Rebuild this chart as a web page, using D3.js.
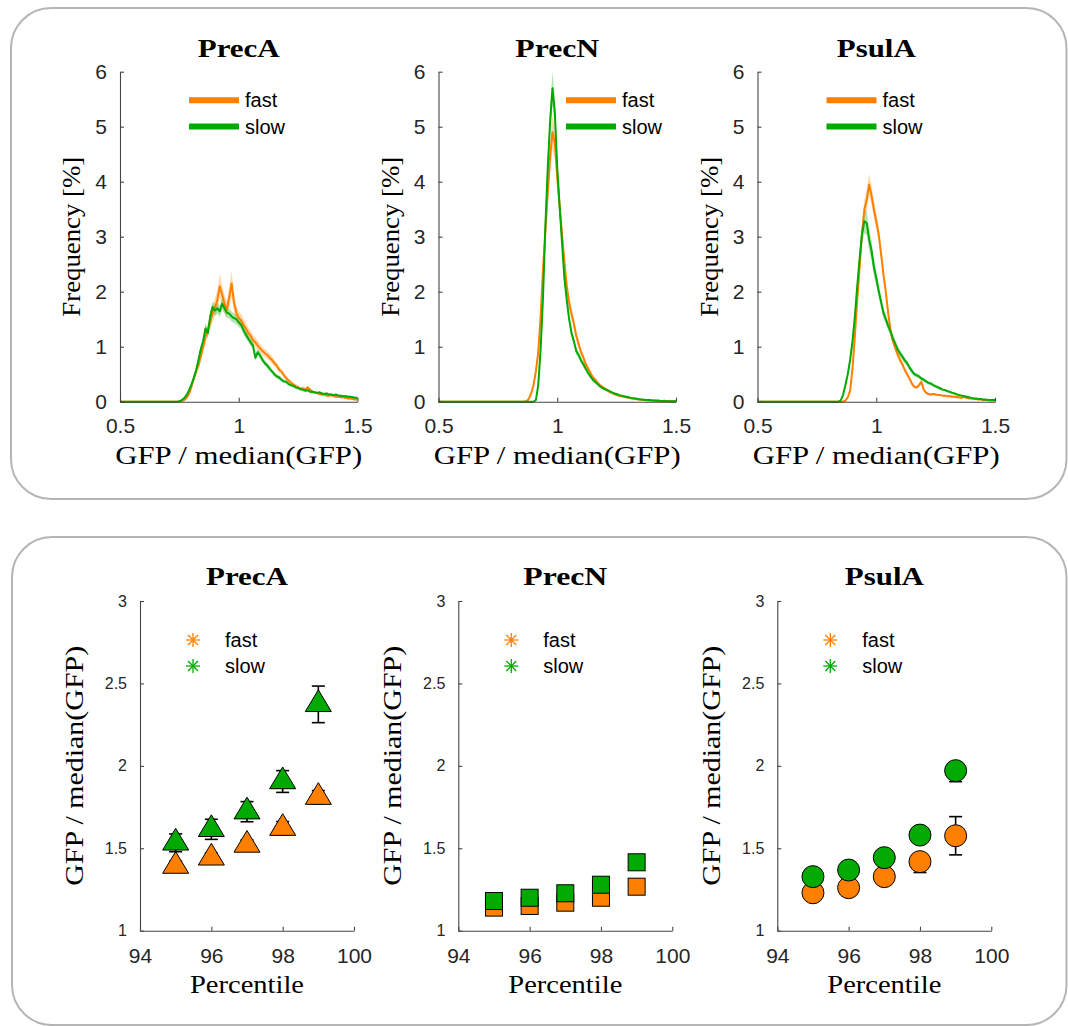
<!DOCTYPE html>
<html>
<head>
<meta charset="utf-8">
<script src="https://cdn.jsdelivr.net/npm/d3@7"></script>
<style>
  html, body { margin: 0; padding: 0; background: #ffffff; }
  svg { display: block; }
</style>
</head>
<body>
<svg id="fig" width="1068" height="1026"></svg>
<script>
// ---------------------------------------------------------------
// Data
// ---------------------------------------------------------------
const promoters = ["PrecA", "PrecN", "PsulA"];
const groups = ["fast", "slow"];

// histogram bins: GFP / median(GFP) from 0.50 to 1.50, step 0.01
const bins = d3.range(101).map(i => +(0.5 + i * 0.01).toFixed(2));

// frequency [%] per bin
const precA_fast = [
  0,0,0,0,0,0,0,0,0,0,
  0,0,0,0,0,0,0,0,0,0,
  0,0,0,0,0,0,0.01,0.03,0.07,0.14,
  0.26,0.42,0.55,0.66,0.82,1.00,1.18,1.30,1.45,1.60,
  1.72,1.85,2.10,1.95,1.78,1.68,1.90,2.15,1.80,1.62,
  1.52,1.48,1.40,1.33,1.25,1.20,1.12,1.08,1.02,0.97,
  0.92,0.88,0.85,0.80,0.76,0.70,0.66,0.58,0.55,0.48,
  0.43,0.38,0.35,0.31,0.28,0.26,0.23,0.24,0.22,0.26,
  0.22,0.18,0.17,0.16,0.14,0.13,0.13,0.11,0.11,0.12,
  0.10,0.09,0.09,0.08,0.08,0.07,0.06,0.06,0.05,0.04,
  0.04];
const precA_slow = [
  0,0,0,0,0,0,0,0,0,0,
  0,0,0,0,0,0,0,0,0,0,
  0,0,0,0,0,0.01,0.03,0.06,0.12,0.20,
  0.30,0.42,0.56,0.75,0.95,1.10,1.33,1.25,1.55,1.72,
  1.66,1.70,1.64,1.78,1.70,1.62,1.60,1.55,1.52,1.50,
  1.44,1.40,1.30,1.22,1.15,1.08,1.02,0.80,0.90,0.84,
  0.76,0.70,0.66,0.60,0.55,0.50,0.46,0.44,0.40,0.37,
  0.36,0.32,0.30,0.29,0.26,0.25,0.23,0.22,0.20,0.21,
  0.18,0.18,0.17,0.16,0.17,0.15,0.14,0.15,0.13,0.13,
  0.12,0.13,0.11,0.11,0.10,0.10,0.09,0.09,0.08,0.07,
  0.07];
const precN_fast = [
  0,0,0,0,0,0,0,0,0,0,
  0,0,0,0,0,0,0,0,0,0,
  0,0,0,0,0,0,0,0,0,0,
  0,0,0,0,0,0,0,0.01,0.05,0.15,
  0.30,0.55,0.90,1.55,2.40,3.10,3.80,4.45,4.90,4.70,
  4.10,3.55,3.05,2.55,2.10,1.80,1.60,1.42,1.20,1.05,
  0.90,0.80,0.68,0.60,0.52,0.44,0.40,0.34,0.30,0.27,
  0.24,0.21,0.18,0.16,0.14,0.12,0.11,0.10,0.09,0.08,
  0.07,0.06,0.06,0.05,0.04,0.04,0.03,0.03,0.02,0.02,
  0.02,0.02,0.01,0.01,0.01,0.01,0.01,0.01,0.01,0.01,
  0.01];
const precN_slow = [
  0,0,0,0,0,0,0,0,0,0,
  0,0,0,0,0,0,0,0,0,0,
  0,0,0,0,0,0,0,0,0,0,
  0,0,0,0,0,0,0,0,0,0,
  0,0.03,0.30,0.95,1.90,3.20,4.25,5.10,5.70,5.25,
  4.25,3.55,2.90,2.25,1.85,1.50,1.25,1.10,0.92,0.85,
  0.75,0.68,0.60,0.52,0.46,0.40,0.36,0.32,0.28,0.25,
  0.23,0.21,0.19,0.17,0.15,0.14,0.12,0.11,0.10,0.09,
  0.08,0.07,0.06,0.06,0.05,0.04,0.04,0.03,0.03,0.03,
  0.02,0.02,0.02,0.02,0.01,0.02,0.01,0.01,0.01,0.01,
  0.01];
const psulA_fast = [
  0,0,0,0,0,0,0,0,0,0,
  0,0,0,0,0,0,0,0,0,0,
  0,0,0,0,0,0,0,0,0,0,
  0,0,0,0,0,0,0,0.02,0.08,0.20,
  0.60,1.20,1.85,2.45,3.05,3.50,3.67,3.95,3.75,3.50,
  3.28,3.05,2.70,2.33,2.00,1.62,1.30,1.10,0.98,0.86,
  0.76,0.68,0.58,0.50,0.42,0.33,0.27,0.26,0.30,0.36,
  0.22,0.16,0.14,0.13,0.14,0.13,0.12,0.12,0.11,0.11,
  0.10,0.10,0.09,0.09,0.08,0.08,0.07,0.09,0.07,0.06,
  0.06,0.05,0.05,0.04,0.04,0.03,0.03,0.03,0.02,0.02,
  0.02];
const psulA_slow = [
  0,0,0,0,0,0,0,0,0,0,
  0,0,0,0,0,0,0,0,0,0,
  0,0,0,0,0,0,0,0,0,0,
  0,0,0,0,0,0.02,0.12,0.30,0.50,0.76,
  1.10,1.55,2.10,2.60,3.05,3.28,3.25,2.95,2.75,2.45,
  2.25,2.02,1.82,1.62,1.50,1.38,1.28,1.15,1.05,0.95,
  0.88,0.82,0.75,0.70,0.62,0.56,0.50,0.48,0.46,0.42,
  0.40,0.37,0.34,0.33,0.30,0.28,0.26,0.24,0.22,0.21,
  0.19,0.18,0.16,0.15,0.13,0.12,0.11,0.10,0.09,0.08,
  0.07,0.06,0.06,0.05,0.05,0.04,0.04,0.03,0.03,0.03,
  0.03];

// spread (shaded band half-width) per bin
const precA_fast_sd = [
  0,0,0,0,0,0,0,0,0,0,
  0,0,0,0,0,0,0,0,0,0,
  0,0,0,0,0,0,0.01,0.02,0.03,0.04,
  0.06,0.07,0.08,0.09,0.10,0.11,0.12,0.13,0.14,0.15,
  0.16,0.18,0.22,0.18,0.16,0.15,0.20,0.24,0.17,0.14,
  0.12,0.12,0.11,0.11,0.10,0.10,0.09,0.09,0.09,0.08,
  0.08,0.08,0.07,0.07,0.07,0.06,0.06,0.06,0.05,0.05,
  0.05,0.05,0.04,0.04,0.04,0.04,0.03,0.04,0.03,0.04,
  0.03,0.03,0.03,0.03,0.03,0.02,0.02,0.02,0.02,0.03,
  0.02,0.02,0.02,0.02,0.02,0.02,0.02,0.02,0.02,0.02,
  0.02];
const precA_slow_sd = [
  0,0,0,0,0,0,0,0,0,0,
  0,0,0,0,0,0,0,0,0,0,
  0,0,0,0,0,0.01,0.01,0.02,0.02,0.03,
  0.04,0.05,0.06,0.07,0.08,0.08,0.09,0.09,0.10,0.10,
  0.10,0.10,0.10,0.11,0.10,0.10,0.09,0.09,0.09,0.09,
  0.08,0.08,0.08,0.07,0.07,0.07,0.07,0.06,0.06,0.06,
  0.05,0.05,0.05,0.05,0.04,0.04,0.04,0.04,0.04,0.03,
  0.03,0.03,0.03,0.03,0.03,0.03,0.03,0.03,0.03,0.03,
  0.03,0.03,0.02,0.02,0.02,0.02,0.02,0.02,0.02,0.02,
  0.02,0.02,0.02,0.02,0.02,0.02,0.02,0.02,0.02,0.02,
  0.02];
const precN_fast_sd = [
  0,0,0,0,0,0,0,0,0,0,
  0,0,0,0,0,0,0,0,0,0,
  0,0,0,0,0,0,0,0,0,0,
  0,0,0,0,0,0,0,0.01,0.02,0.04,
  0.06,0.10,0.12,0.15,0.18,0.20,0.24,0.28,0.32,0.30,
  0.25,0.20,0.17,0.15,0.13,0.12,0.11,0.10,0.09,0.08,
  0.07,0.07,0.06,0.06,0.05,0.05,0.04,0.04,0.04,0.03,
  0.03,0.03,0.03,0.02,0.02,0.02,0.02,0.02,0.02,0.01,
  0.01,0.01,0.01,0.01,0.01,0.01,0.01,0.01,0.01,0.01,
  0.01,0.01,0.01,0.01,0.01,0.01,0.01,0.01,0.01,0.01,
  0.01];
const precN_slow_sd = [
  0,0,0,0,0,0,0,0,0,0,
  0,0,0,0,0,0,0,0,0,0,
  0,0,0,0,0,0,0,0,0,0,
  0,0,0,0,0,0,0,0,0,0,
  0,0.01,0.04,0.08,0.12,0.16,0.20,0.25,0.30,0.25,
  0.18,0.15,0.12,0.10,0.09,0.08,0.07,0.07,0.06,0.06,
  0.05,0.05,0.05,0.04,0.04,0.04,0.03,0.03,0.03,0.03,
  0.03,0.02,0.02,0.02,0.02,0.02,0.02,0.02,0.01,0.01,
  0.01,0.01,0.01,0.01,0.01,0.01,0.01,0.01,0.01,0.01,
  0.01,0.01,0.01,0.01,0.01,0.01,0.01,0.01,0.01,0.01,
  0.01];
const psulA_fast_sd = [
  0,0,0,0,0,0,0,0,0,0,
  0,0,0,0,0,0,0,0,0,0,
  0,0,0,0,0,0,0,0,0,0,
  0,0,0,0,0,0,0,0.01,0.02,0.03,
  0.06,0.09,0.11,0.13,0.15,0.17,0.18,0.20,0.18,0.16,
  0.15,0.13,0.12,0.11,0.10,0.09,0.08,0.07,0.07,0.06,
  0.06,0.05,0.05,0.05,0.04,0.04,0.03,0.03,0.04,0.04,
  0.03,0.02,0.02,0.02,0.02,0.02,0.02,0.02,0.02,0.02,
  0.02,0.02,0.02,0.02,0.02,0.02,0.02,0.02,0.02,0.02,
  0.01,0.01,0.01,0.01,0.01,0.01,0.01,0.01,0.01,0.01,
  0.01];
const psulA_slow_sd = [
  0,0,0,0,0,0,0,0,0,0,
  0,0,0,0,0,0,0,0,0,0,
  0,0,0,0,0,0,0,0,0,0,
  0,0,0,0,0,0.01,0.02,0.04,0.05,0.07,
  0.09,0.11,0.13,0.15,0.18,0.22,0.22,0.20,0.18,0.16,
  0.14,0.12,0.11,0.10,0.09,0.09,0.08,0.08,0.07,0.07,
  0.06,0.06,0.06,0.05,0.05,0.05,0.04,0.04,0.04,0.04,
  0.04,0.03,0.03,0.03,0.03,0.03,0.03,0.03,0.02,0.02,
  0.02,0.02,0.02,0.02,0.02,0.02,0.02,0.02,0.02,0.02,
  0.01,0.01,0.01,0.01,0.01,0.01,0.01,0.01,0.01,0.01,
  0.01];

// high-percentile GFP / median(GFP): value, lower and upper error per percentile
const percentiles = [95, 96, 97, 98, 99];
const precA_fast_pct = [1.392, 1.442, 1.520, 1.622, 1.810];
const precA_fast_lo  = [0.03, 0.03, 0.03, 0.04, 0.04];
const precA_fast_hi  = [0.03, 0.03, 0.03, 0.04, 0.04];
const precA_slow_pct = [1.533, 1.615, 1.722, 1.905, 2.373];
const precA_slow_lo  = [0.054, 0.061, 0.061, 0.066, 0.111];
const precA_slow_hi  = [0.054, 0.061, 0.061, 0.066, 0.111];
const precN_fast_pct = [1.140, 1.150, 1.170, 1.200, 1.267];
const precN_fast_lo  = [0.01, 0.01, 0.01, 0.02, 0.02];
const precN_fast_hi  = [0.01, 0.01, 0.01, 0.02, 0.02];
const precN_slow_pct = [1.180, 1.200, 1.227, 1.279, 1.415];
const precN_slow_lo  = [0.02, 0.02, 0.02, 0.03, 0.03];
const precN_slow_hi  = [0.02, 0.02, 0.02, 0.03, 0.03];
const psulA_fast_pct = [1.230, 1.261, 1.328, 1.419, 1.576];
const psulA_fast_lo  = [0.03, 0.03, 0.04, 0.066, 0.116];
const psulA_fast_hi  = [0.03, 0.03, 0.04, 0.040, 0.116];
const psulA_slow_pct = [1.328, 1.368, 1.443, 1.580, 1.971];
const psulA_slow_lo  = [0.03, 0.03, 0.04, 0.04, 0.067];
const psulA_slow_hi  = [0.03, 0.03, 0.04, 0.04, 0.040];

// tick values
const histTicksX = [0.5, 1, 1.5];
const histTicksY = [0, 1, 2, 3, 4, 5, 6];
const pctTicksX = [94, 96, 98, 100];
const pctTicksY = [1, 1.5, 2, 2.5, 3];

// lookup tables built from the arrays above
const hist = {
  PrecA: { fast: precA_fast, slow: precA_slow },
  PrecN: { fast: precN_fast, slow: precN_slow },
  PsulA: { fast: psulA_fast, slow: psulA_slow }
};
const histSd = {
  PrecA: { fast: precA_fast_sd, slow: precA_slow_sd },
  PrecN: { fast: precN_fast_sd, slow: precN_slow_sd },
  PsulA: { fast: psulA_fast_sd, slow: psulA_slow_sd }
};
const pct = {
  PrecA: { fast: [precA_fast_pct, precA_fast_lo, precA_fast_hi],
           slow: [precA_slow_pct, precA_slow_lo, precA_slow_hi] },
  PrecN: { fast: [precN_fast_pct, precN_fast_lo, precN_fast_hi],
           slow: [precN_slow_pct, precN_slow_lo, precN_slow_hi] },
  PsulA: { fast: [psulA_fast_pct, psulA_fast_lo, psulA_fast_hi],
           slow: [psulA_slow_pct, psulA_slow_lo, psulA_slow_hi] }
};

// ---------------------------------------------------------------
// Styling / layout
// ---------------------------------------------------------------
const SANS = "'Liberation Sans', Arial, Helvetica, sans-serif";
const SERIF = "'Liberation Serif', 'Times New Roman', serif";
const color = { fast: "#ff8000", slow: "#00aa00" };
const axisColor = "#454545";
const tickTextColor = "#262626";
const markerShape = { PrecA: "triangle", PrecN: "square", PsulA: "circle" };
const titleWidth = { PrecA: 82, PrecN: 84, PsulA: 79 };

const svg = d3.select("#fig");

// rounded panel frames
function frame(x, y, w, h) {
  svg.append("rect")
    .attr("x", x).attr("y", y).attr("width", w).attr("height", h)
    .attr("rx", 40).attr("ry", 40)
    .attr("fill", "none").attr("stroke", "#b5b5b5").attr("stroke-width", 2);
}
frame(11, 8, 1055.5, 491);
frame(12, 537, 1054.5, 488);

function serifText(g, txt, x, y, size, len, bold, rotate) {
  const t = g.append("text")
    .attr("text-anchor", "middle")
    .attr("font-family", SERIF)
    .attr("font-size", size)
    .attr("font-weight", bold ? "bold" : "normal")
    .attr("fill", "#000")
    .attr("textLength", len)
    .attr("lengthAdjust", "spacingAndGlyphs")
    .text(txt);
  if (rotate) t.attr("transform", `translate(${x},${y}) rotate(-90)`);
  else t.attr("x", x).attr("y", y);
  return t;
}

function styleAxis(g, fontSize) {
  g.attr("font-family", null).attr("font-size", null);
  g.select(".domain").attr("stroke", axisColor).attr("stroke-width", 1.1);
  g.selectAll(".tick line").attr("stroke", axisColor).attr("stroke-width", 1.1);
  g.selectAll(".tick text")
    .attr("fill", tickTextColor)
    .style("font-family", SANS)
    .style("font-size", fontSize + "px");
}

// ---------------------------------------------------------------
// Top row: frequency histograms
// ---------------------------------------------------------------
const histLeft = [120, 438.5, 757.5];
const histW = 237.5, histTop = 71.7, histBottom = 401.7;
const legendDx = [69, 127.5, 69];

promoters.forEach((p, k) => {
  const x0 = histLeft[k];
  const x = d3.scaleLinear().domain([0.5, 1.5]).range([x0, x0 + histW]);
  const y = d3.scaleLinear().domain([0, 6]).range([histBottom, histTop]);
  const g = svg.append("g");

  groups.forEach(s => {
    const v = hist[p][s], sd = histSd[p][s];
    const band = d3.area()
      .x((d, i) => x(bins[i]))
      .y0((d, i) => y(Math.max(0, v[i] - sd[i])))
      .y1((d, i) => y(v[i] + sd[i]));
    g.append("path").datum(v).attr("d", band)
      .attr("fill", color[s]).attr("fill-opacity", 0.3).attr("stroke", "none");
  });
  groups.forEach(s => {
    const v = hist[p][s];
    const line = d3.line().x((d, i) => x(bins[i])).y(d => y(d));
    g.append("path").datum(v).attr("d", line)
      .attr("fill", "none").attr("stroke", color[s])
      .attr("stroke-width", 2).attr("stroke-linejoin", "round");
  });

  const gx = g.append("g").attr("transform", `translate(0,${histBottom})`)
    .call(d3.axisBottom(x).tickValues(histTicksX).tickFormat(d => String(d))
      .tickSizeInner(-4).tickSizeOuter(0).tickPadding(16));
  styleAxis(gx, 21);
  const gy = g.append("g").attr("transform", `translate(${x0},0)`)
    .call(d3.axisLeft(y).tickValues(histTicksY).tickFormat(d => String(d))
      .tickSizeInner(-4).tickSizeOuter(0).tickPadding(13));
  styleAxis(gy, 21);

  // title and axis labels
  serifText(g, p, x0 + histW / 2, histTop - 15, 26, titleWidth[p], true, false);
  serifText(g, "GFP / median(GFP)", x0 + histW / 2, histBottom + 62, 26, 247, false, false);
  serifText(g, "Frequency [%]", x0 - 40, (histTop + histBottom) / 2, 26, 160, false, true);

  // legend
  groups.forEach((s, j) => {
    const ly = histTop + 28.5 + j * 26.3;
    const lx = x0 + legendDx[k];
    g.append("line").attr("x1", lx).attr("x2", lx + 50).attr("y1", ly).attr("y2", ly)
      .attr("stroke", color[s]).attr("stroke-width", 6);
    g.append("text").attr("x", lx + 56).attr("y", ly).attr("dy", "0.35em")
      .attr("font-family", SANS).attr("font-size", 20).attr("fill", "#000")
      .text(s);
  });
});

// ---------------------------------------------------------------
// Bottom row: high percentiles
// ---------------------------------------------------------------
const pctLeft = [140, 458.3, 777.3];
const pctW = 214, pctTop = 601, pctBottom = 930.7;

function drawMarker(g, shape, cx, cy, fill) {
  if (shape === "triangle") {
    g.append("path")
      .attr("d", `M${cx},${cy - 14.5}L${cx + 13},${cy + 7.2}L${cx - 13},${cy + 7.2}Z`)
      .attr("fill", fill).attr("stroke", "#000").attr("stroke-width", 1);
  } else if (shape === "square") {
    g.append("rect").attr("x", cx - 8.5).attr("y", cy - 8.5)
      .attr("width", 17).attr("height", 17)
      .attr("fill", fill).attr("stroke", "#000").attr("stroke-width", 1);
  } else {
    g.append("circle").attr("cx", cx).attr("cy", cy).attr("r", 11)
      .attr("fill", fill).attr("stroke", "#000").attr("stroke-width", 1);
  }
}

function asterisk(g, cx, cy, c) {
  [0, 45, 90, 135].forEach(a => {
    const r = a * Math.PI / 180, L = 7;
    g.append("line")
      .attr("x1", cx - L * Math.cos(r)).attr("y1", cy - L * Math.sin(r))
      .attr("x2", cx + L * Math.cos(r)).attr("y2", cy + L * Math.sin(r))
      .attr("stroke", c).attr("stroke-width", 1.3);
  });
}

promoters.forEach((p, k) => {
  const x0 = pctLeft[k];
  const x = d3.scaleLinear().domain([94, 100]).range([x0, x0 + pctW]);
  const y = d3.scaleLinear().domain([1, 3]).range([pctBottom, pctTop]);
  const g = svg.append("g");

  const gx = g.append("g").attr("transform", `translate(0,${pctBottom})`)
    .call(d3.axisBottom(x).tickValues(pctTicksX).tickFormat(d => String(d))
      .tickSizeInner(-4).tickSizeOuter(0).tickPadding(17));
  styleAxis(gx, 21);
  const gy = g.append("g").attr("transform", `translate(${x0},0)`)
    .call(d3.axisLeft(y).tickValues(pctTicksY).tickFormat(d => String(d))
      .tickSizeInner(-4).tickSizeOuter(0).tickPadding(13));
  styleAxis(gy, 16);

  groups.forEach(s => {
    const [m, lo, hi] = pct[p][s];
    percentiles.forEach((q, i) => {
      const cx = x(q);
      const yHi = y(m[i] + hi[i]), yLo = y(m[i] - lo[i]);
      g.append("line").attr("x1", cx).attr("x2", cx).attr("y1", yHi).attr("y2", yLo)
        .attr("stroke", "#000").attr("stroke-width", 1.6);
      [yHi, yLo].forEach(yy => g.append("line")
        .attr("x1", cx - 6.5).attr("x2", cx + 6.5).attr("y1", yy).attr("y2", yy)
        .attr("stroke", "#000").attr("stroke-width", 1.6));
      drawMarker(g, markerShape[p], cx, y(m[i]), color[s]);
    });
  });

  serifText(g, p, x0 + pctW / 2, pctTop - 16, 26, titleWidth[p], true, false);
  serifText(g, "Percentile", x0 + pctW / 2, pctBottom + 62, 26, 114, false, false);
  serifText(g, "GFP / median(GFP)", x0 - 57, (pctTop + pctBottom) / 2, 26, 240, false, true);

  groups.forEach((s, j) => {
    const ly = pctTop + 39 + j * 26;
    asterisk(g, x0 + 53, ly, color[s]);
    g.append("text").attr("x", x0 + 85).attr("y", ly).attr("dy", "0.35em")
      .attr("font-family", SANS).attr("font-size", 20).attr("fill", "#000")
      .text(s);
  });
});
</script>
</body>
</html>
